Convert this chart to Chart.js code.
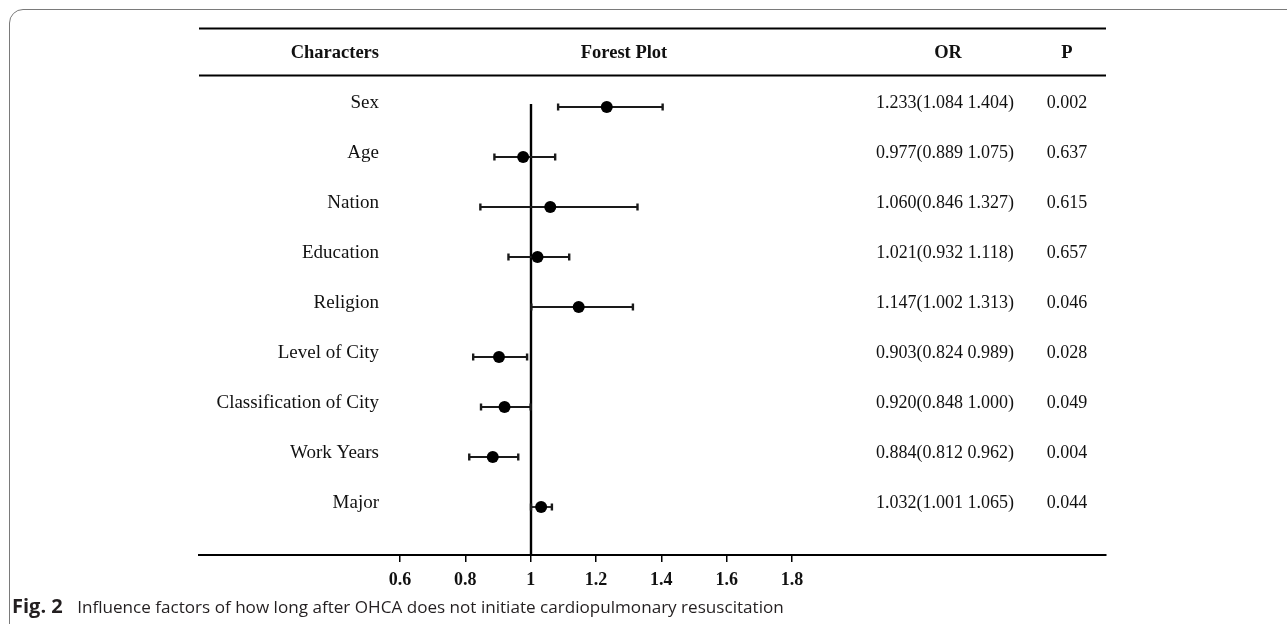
<!DOCTYPE html>
<html>
<head>
<meta charset="utf-8">
<script src="https://cdn.jsdelivr.net/npm/chart.js@4.4.1/dist/chart.umd.min.js"></script>
<style>
  html, body { margin: 0; padding: 0; background: #fff; }
  body { width: 1287px; height: 624px; position: relative; overflow: hidden; }
  #frame { position: absolute; left: 9px; top: 9px; width: 1400px; height: 640px;
           border: 1.5px solid #7a7a7a; border-radius: 14px; box-sizing: border-box; }
  #wrap { position: absolute; left: 0; top: 0; width: 1287px; height: 624px; }
  #caption { position: absolute; left: 12px; top: 595px; font-family: "Open Sans", sans-serif;
             font-size: 17.1px; color: #231f20; white-space: nowrap; line-height: 22px; }
  #caption b { font-weight: 700; font-size: 20px; margin-right: 10px; }
</style>
</head>
<body>
<div id="frame"></div>
<div id="wrap"><canvas id="c" width="1287" height="624"></canvas></div>
<div id="caption"><b>Fig. 2</b> Influence factors of how long after OHCA does not initiate cardiopulmonary resuscitation</div>
<script>
const categories = ["Sex", "Age", "Nation", "Education", "Religion", "Level of City",
                    "Classification of City", "Work Years", "Major"];
const orValues = [1.233, 0.977, 1.060, 1.021, 1.147, 0.903, 0.920, 0.884, 1.032];
const lowerCI  = [1.084, 0.889, 0.846, 0.932, 1.002, 0.824, 0.848, 0.812, 1.001];
const upperCI  = [1.404, 1.075, 1.327, 1.118, 1.313, 0.989, 1.000, 0.962, 1.065];
const pValues  = ["0.002", "0.637", "0.615", "0.657", "0.046", "0.028", "0.049", "0.004", "0.044"];
const xTicks   = [0.6, 0.8, 1.0, 1.2, 1.4, 1.6, 1.8];
const headers  = ["Characters", "Forest Plot", "OR", "P"];

const SERIF = '"Liberation Serif", "Times New Roman", serif';
const fmt = v => v.toFixed(3);

const datasets = [];
categories.forEach((c, i) => {
  datasets.push({
    type: 'line',
    data: [{x: lowerCI[i], y: i}, {x: upperCI[i], y: i}],
    borderColor: '#1a1a1a',
    borderWidth: 1.8,
    pointStyle: 'line',
    rotation: 90,
    pointRadius: 3.5,
    pointBorderWidth: 2.4,
    pointBorderColor: '#1a1a1a',
    pointHoverRadius: 3.5,
    fill: false,
    order: 2
  });
});
datasets.push({
  type: 'scatter',
  data: orValues.map((v, i) => ({x: v, y: i})),
  backgroundColor: '#000',
  borderColor: '#000',
  pointRadius: 6,
  pointHoverRadius: 6,
  borderWidth: 0,
  order: 1
});

const tablePlugin = {
  id: 'table',
  beforeDatasetsDraw(chart) {
    const {ctx, chartArea, scales} = chart;
    const x = scales.x, y = scales.y;
    ctx.save();
    ctx.strokeStyle = '#000';
    ctx.lineWidth = 2;
    ctx.beginPath();
    ctx.moveTo(chartArea.left, 28.5); ctx.lineTo(chartArea.right, 28.5);
    ctx.moveTo(chartArea.left, 75.5); ctx.lineTo(chartArea.right, 75.5);
    ctx.stroke();
    const x1 = Math.round(x.getPixelForValue(1));
    ctx.lineWidth = 2.4;
    ctx.beginPath();
    ctx.moveTo(x1, 104); ctx.lineTo(x1, chartArea.bottom);
    ctx.stroke();
    ctx.fillStyle = '#111';
    ctx.textBaseline = 'middle';
    ctx.font = 'bold 18.5px ' + SERIF;
    ctx.textAlign = 'right';
    ctx.fillText(headers[0], 379, 53);
    ctx.textAlign = 'center';
    ctx.fillText(headers[1], 624, 53);
    ctx.fillText(headers[2], 948, 53);
    ctx.fillText(headers[3], 1067, 53);
    categories.forEach((c, i) => {
      const yy = y.getPixelForValue(i) - 4;
      ctx.font = '19px ' + SERIF;
      ctx.textAlign = 'right';
      ctx.fillText(c, 379, yy);
      ctx.font = '18px ' + SERIF;
      ctx.textAlign = 'center';
      ctx.fillText(fmt(orValues[i]) + '(' + fmt(lowerCI[i]) + ' ' + fmt(upperCI[i]) + ')', 945, yy);
      ctx.fillText(pValues[i], 1067, yy);
    });
    ctx.restore();
  }
};

new Chart(document.getElementById('c'), {
  data: { datasets },
  options: {
    responsive: false,
    animation: false,
    events: [],
    layout: { padding: { left: 199, right: 181, top: 28, bottom: 0 } },
    plugins: { legend: { display: false }, tooltip: { enabled: false } },
    scales: {
      x: {
        type: 'linear',
        min: 0.6 - 201 / (392 / 1.2),
        max: 1.8 + 314 / (392 / 1.2),
        afterBuildTicks(scale) { scale.ticks = xTicks.map(v => ({value: v})); },
        afterFit(scale) { scale.height = 69; },
        border: { display: true, color: '#000', width: 2 },
        grid: { display: true, drawOnChartArea: false, drawTicks: true, tickLength: 7,
                color: '#000', lineWidth: 1.5 },
        ticks: {
          autoSkip: false, maxRotation: 0, padding: 8, color: '#111',
          font: { family: SERIF, size: 18, weight: 'bold' },
          callback: v => String(Math.round(v * 10) / 10)
        }
      },
      y: {
        type: 'linear',
        reverse: true,
        min: -1.58,
        max: 8.96,
        display: false
      }
    }
  },
  plugins: [tablePlugin]
});
</script>
</body>
</html>
